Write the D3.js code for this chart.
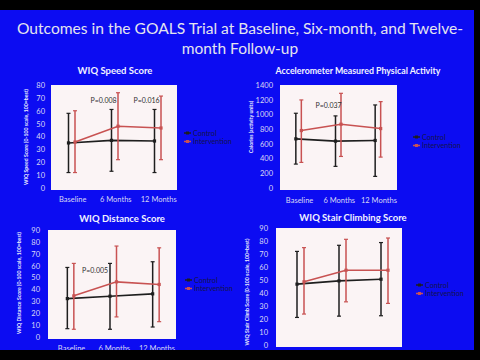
<!DOCTYPE html>
<html><head><meta charset="utf-8">
<script src="https://cdn.jsdelivr.net/npm/d3@7"></script>
<style>body{margin:0;background:#000}svg{display:block}</style>
</head><body>
<script>
// ---- data ----
const categories = ["Baseline", "6 Months", "12 Months"];
const seriesNames = ["Control", "Intervention"];

const speedTicks = [0, 10, 20, 30, 40, 50, 60, 70, 80];
const speedControlMean = [35, 37, 36.5];
const speedControlLow = [12, 13, 12];
const speedControlHigh = [58, 61, 61];
const speedInterventionMean = [35.7, 48, 46.6];
const speedInterventionLow = [12, 22, 22];
const speedInterventionHigh = [60, 74, 71.4];
const speedPValues = ["", "P=0.008", "P=0.016"];

const accelTicks = [0, 200, 400, 600, 800, 1000, 1200, 1400];
const accelControlMean = [668, 637, 646];
const accelControlLow = [325, 294, 158];
const accelControlHigh = [1016, 980, 1129];
const accelInterventionMean = [781, 867, 808];
const accelInterventionLow = [348, 429, 420];
const accelInterventionHigh = [1197, 1287, 1174];
const accelPValues = ["", "P=0.037", ""];

const distanceTicks = [0, 10, 20, 30, 40, 50, 60, 70, 80, 90];
const distanceControlMean = [32.3, 34.3, 36.3];
const distanceControlLow = [7, 6.5, 8.4];
const distanceControlHigh = [58.5, 61.9, 63.3];
const distanceInterventionMean = [34.6, 46.4, 44.2];
const distanceInterventionLow = [6.5, 16.9, 12.9];
const distanceInterventionHigh = [61.9, 76.5, 75];
const distancePValues = ["", "P=0.005", ""];

const stairTicks = [0, 10, 20, 30, 40, 50, 60, 70, 80, 90];
const stairControlMean = [46.8, 49.3, 50.6];
const stairControlLow = [21.2, 22.2, 22.5];
const stairControlHigh = [72, 76.7, 78.8];
const stairInterventionMean = [48.6, 57.5, 57.5];
const stairInterventionLow = [23.8, 33.2, 32];
const stairInterventionHigh = [74.9, 81.3, 82.3];
const stairPValues = ["", "", ""];

// ---- drawing ----
const FONT = "Lato, 'Open Sans', sans-serif";
const CTRL = "#1e1e1e", INTV = "#c85252";
const svg = d3.select("body").append("svg").attr("width", 480).attr("height", 360);
svg.append("rect").attr("width", 480).attr("height", 360).attr("fill", "#000");
svg.append("rect").attr("x", 0).attr("y", 10).attr("width", 474).attr("height", 340).attr("fill", "#0c0cf2");

const tg = svg.append("g").attr("font-family", FONT).attr("fill", "#e4e4ee").attr("text-anchor", "middle").attr("font-size", 15.5);
tg.append("text").attr("x", 240).attr("y", 34).attr("textLength", 446).attr("lengthAdjust", "spacingAndGlyphs")
  .text("Outcomes in the GOALS Trial at Baseline, Six-month, and Twelve-");
tg.append("text").attr("x", 240).attr("y", 54).text("month Follow-up");

function panel(c) {
  const g = svg.append("g").attr("font-family", FONT);
  const x = d3.scaleBand().domain(categories).range(c.xRange);
  const off = d3.scalePoint().domain(seriesNames).range([0, c.gap]);
  const y = d3.scaleLinear().domain([0, c.ticks[c.ticks.length - 1]]).range([c.plot[3], c.plot[1]]);
  g.append("rect").attr("x", c.plot[0]).attr("y", c.plot[1]).attr("width", c.plot[2] - c.plot[0])
    .attr("height", c.plot[3] - c.plot[1] + 2).attr("fill", "#fbf4f5");
  g.append("text").attr("x", c.titlePos[0]).attr("y", c.titlePos[1]).attr("text-anchor", "middle")
    .attr("font-weight", "bold").attr("font-size", c.titleSize).attr("fill", "#f2f2ff").text(c.title);
  const ax = g.append("g").attr("transform", `translate(${c.plot[0]},0)`)
    .call(d3.axisLeft(y).tickValues(c.ticks).tickFormat(d3.format("d")).tickSize(0).tickPadding(c.tickPad));
  ax.select(".domain").remove();
  ax.selectAll("text").attr("font-family", FONT).attr("font-size", 7.5).attr("fill", "#d8d8f4");
  const xa = g.append("g").attr("transform", `translate(${c.gap / 2 + 1},${c.plot[3]})`)
    .call(d3.axisBottom(x).tickSize(0).tickPadding(c.xPad));
  xa.select(".domain").remove();
  xa.selectAll("text").attr("font-family", FONT).attr("font-size", 7.5).attr("fill", "#d8d8f4");
  g.append("text").attr("transform", `translate(${c.yTitlePos[0]},${c.yTitlePos[1]}) rotate(-90)`)
    .attr("text-anchor", "middle").attr("font-size", 5.2).attr("font-weight", "bold").attr("fill", "#eeeeff").text(c.yTitle);

  const series = [
    { name: "Control", color: CTRL, mean: c.cm, lo: c.cl, hi: c.ch },
    { name: "Intervention", color: INTV, mean: c.im, lo: c.il, hi: c.ih }
  ];
  const cx = (s, i) => x(categories[i]) + x.bandwidth() / 2 + off(s.name);
  series.forEach(s => {
    const sg = g.append("g");
    s.mean.forEach((m, i) => {
      const px = cx(s, i);
      sg.append("line").attr("x1", px).attr("x2", px).attr("y1", y(s.lo[i])).attr("y2", y(s.hi[i]))
        .attr("stroke", s.color).attr("stroke-width", 1.5);
      [s.lo[i], s.hi[i]].forEach(v => sg.append("line").attr("x1", px - 2).attr("x2", px + 2)
        .attr("y1", y(v)).attr("y2", y(v)).attr("stroke", s.color).attr("stroke-width", 1.2));
    });
    sg.append("path").attr("d", d3.line().x((d, i) => cx(s, i)).y(d => y(d))(s.mean))
      .attr("fill", "none").attr("stroke", s.color).attr("stroke-width", 1.6);
    s.mean.forEach((m, i) => sg.append("rect").attr("x", cx(s, i) - 1.6).attr("y", y(m) - 1.6)
      .attr("width", 3.2).attr("height", 3.2).attr("fill", s.color));
  });
  c.p.forEach((t, i) => {
    if (!t) return;
    g.append("text").attr("x", x(categories[i]) + x.bandwidth() / 2 + c.pDx).attr("y", y(c.pY))
      .attr("text-anchor", "middle").attr("font-size", 7).attr("fill", "#303030").text(t);
  });
  series.forEach((s, k) => {
    const ly = c.legend[1] + k * 8.5;
    g.append("line").attr("x1", c.legend[0]).attr("x2", c.legend[0] + 7).attr("y1", ly).attr("y2", ly)
      .attr("stroke", s.color).attr("stroke-width", 1.5);
    g.append("rect").attr("x", c.legend[0] + 2).attr("y", ly - 1.5).attr("width", 3).attr("height", 3).attr("fill", s.color);
    g.append("text").attr("x", c.legend[0] + 9).attr("y", ly + 2.5).attr("font-size", 7.2).attr("fill", "#141450").text(s.name);
  });
}

panel({ title: "WIQ Speed Score", titlePos: [115, 74], titleSize: 9.5, ticks: speedTicks,
  plot: [51, 85, 177, 188], xRange: [47, 176], gap: 6.5, tickPad: 6, xPad: 9,
  yTitle: "WIQ Speed Score (0-100 scale, 100=best)", yTitlePos: [28, 137],
  cm: speedControlMean, cl: speedControlLow, ch: speedControlHigh,
  im: speedInterventionMean, il: speedInterventionLow, ih: speedInterventionHigh,
  p: speedPValues, pDx: -8, pY: 66, legend: [184, 133] });

panel({ title: "Accelerometer Measured Physical Activity", titlePos: [358, 74], titleSize: 8.8, ticks: accelTicks,
  plot: [280, 85, 397, 188], xRange: [276, 395], gap: 5.5, tickPad: 7, xPad: 10,
  yTitle: "Calories (activity units)", yTitlePos: [253, 127],
  cm: accelControlMean, cl: accelControlLow, ch: accelControlHigh,
  im: accelInterventionMean, il: accelInterventionLow, ih: accelInterventionHigh,
  p: accelPValues, pDx: -7, pY: 1087, legend: [413, 137] });

panel({ title: "WIQ Distance Score", titlePos: [122, 222], titleSize: 9.5, ticks: distanceTicks,
  plot: [48, 230, 176, 337], xRange: [46, 174], gap: 6.5, tickPad: 8, xPad: 9,
  yTitle: "WIQ Distance Score (0-100 scale, 100=best)", yTitlePos: [21, 283],
  cm: distanceControlMean, cl: distanceControlLow, ch: distanceControlHigh,
  im: distanceInterventionMean, il: distanceInterventionLow, ih: distanceInterventionHigh,
  p: distancePValues, pDx: -15, pY: 53.8, legend: [185, 280] });

panel({ title: "WIQ Stair Climbing Score", titlePos: [353, 221], titleSize: 9.5, ticks: stairTicks,
  plot: [276, 228, 402, 345], xRange: [276, 402], gap: 7, tickPad: 8, xPad: 9,
  yTitle: "WIQ Stair Climb Score (0-100 scale, 100=best)", yTitlePos: [249, 292],
  cm: stairControlMean, cl: stairControlLow, ch: stairControlHigh,
  im: stairInterventionMean, il: stairInterventionLow, ih: stairInterventionHigh,
  p: stairPValues, pDx: 0, pY: 0, legend: [416, 285] });

// bottom and right black borders of the photographed slide
svg.append("rect").attr("x", 0).attr("y", 350).attr("width", 480).attr("height", 10).attr("fill", "#000");
svg.append("rect").attr("x", 474).attr("y", 0).attr("width", 6).attr("height", 360).attr("fill", "#000");
</script>
</body></html>
